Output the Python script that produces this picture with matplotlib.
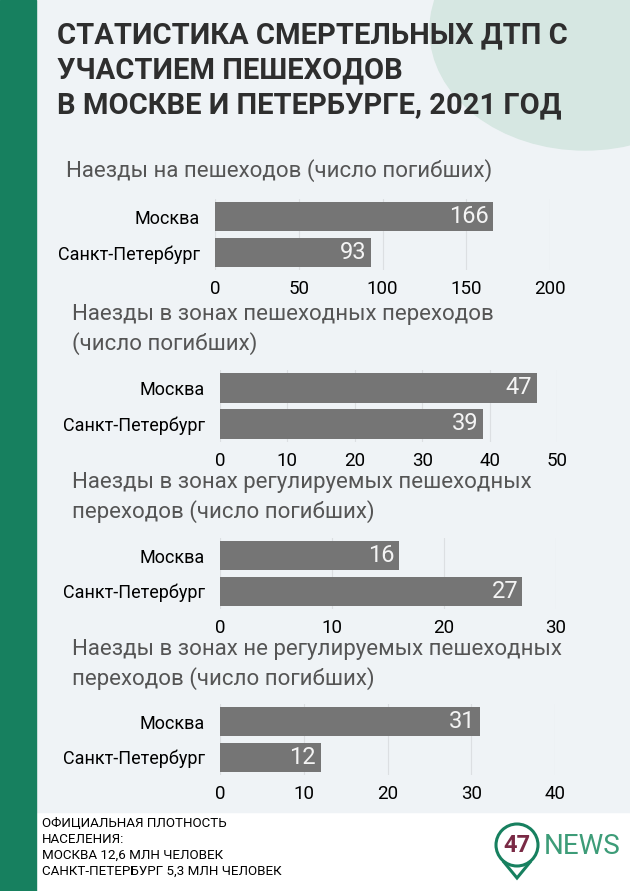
import numpy as np
import matplotlib
matplotlib.use('Agg')
import matplotlib.pyplot as plt
from matplotlib.patches import Rectangle, Ellipse, Circle, Polygon

## data
cities = ['Москва', 'Санкт-Петербург']
hits_total = [166, 93]
hits_crossings = [47, 39]
hits_regulated = [16, 27]
hits_unregulated = [31, 12]

panel_titles = ['Наезды на пешеходов (число погибших)',
                'Наезды в зонах пешеходных переходов\n(число погибших)',
                'Наезды в зонах регулируемых пешеходных\nпереходов (число погибших)',
                'Наезды в зонах не регулируемых пешеходных\nпереходов (число погибших)']
panel_values = [hits_total, hits_crossings, hits_regulated, hits_unregulated]
panel_ticks = [[0, 50, 100, 150, 200], [0, 10, 20, 30, 40, 50], [0, 10, 20, 30], [0, 10, 20, 30, 40]]

title = 'СТАТИСТИКА СМЕРТЕЛЬНЫХ ДТП С\nУЧАСТИЕМ ПЕШЕХОДОВ\nВ МОСКВЕ И ПЕТЕРБУРГЕ, 2021 ГОД'
note = 'ОФИЦИАЛЬНАЯ ПЛОТНОСТЬ\nНАСЕЛЕНИЯ:\nМОСКВА 12,6 МЛН ЧЕЛОВЕК\nСАНКТ-ПЕТЕРБУРГ 5,3 МЛН ЧЕЛОВЕК'

W, H = 630, 891
bg = '#eff3f6'
green = '#17805f'
bar_color = '#757575'
plt.rcParams['font.family'] = ['Roboto', 'DejaVu Sans']

fig = plt.figure(figsize=(W/100., H/100.), dpi=100)
fig.patch.set_facecolor('white')

def px(x, y):
    return x/W, 1 - y/H

## background
bgax = fig.add_axes([0, 0, 1, 1])
bgax.set_xlim(0, W)
bgax.set_ylim(H, 0)
bgax.axis('off')
bgax.add_patch(Rectangle((0, 0), W, 812, color=bg, zorder=0))
bgax.add_patch(Ellipse((585, 30), 310, 240, color='#d6e7e2', zorder=1))
bgax.add_patch(Rectangle((0, 0), 36, H, color=green, zorder=2))

## title
bgax.text(57, 21, title, fontsize=21, fontweight='bold', color='#2e2e2e',
          va='top', ha='left', linespacing=1.32, zorder=3)

## footnote
bgax.text(42, 817, note, fontsize=9.6, color='black', va='top', ha='left',
          linespacing=1.3, zorder=3)

## logo
bgax.add_patch(Circle((517, 845), 21, fill=False, ec=green, lw=2.2, zorder=3))
bgax.add_patch(Polygon([[503, 861], [517, 878], [531, 861]], closed=False, fill=False,
                       ec=green, lw=2.2, zorder=3))
bgax.text(517, 846, '47', fontsize=17, fontweight='bold', color='#7a2a45',
          ha='center', va='center', zorder=4)
bgax.text(544, 847, 'NEWS', fontsize=20, color='#3d9c78',
          ha='left', va='center', zorder=4)

## panels: (title x, title top y, axes left px, axes right px, bar top px, bar bottom px)
layout = [(66, 159, 215, 550, 199, 270),
          (72, 304, 220, 557, 370, 442),
          (72, 472, 220, 556, 538, 609),
          (72, 639, 220, 555, 704, 775)]

for (tx, ty, x0, x1, yt, yb), t, vals, ticks in zip(layout, panel_titles, panel_values, panel_ticks):
    bgax.text(tx, ty, t, fontsize=16, color='#555555', va='top', ha='left',
              linespacing=1.4, zorder=3)
    l, b = px(x0, yb)
    ax = fig.add_axes([l, b, (x1 - x0)/W, (yb - yt)/H])
    ax.set_facecolor('none')
    ypos = np.arange(len(cities))
    ax.barh(ypos, vals, height=0.82, color=bar_color, zorder=2)
    ax.set_ylim(len(cities) - 0.5, -0.5)
    ax.set_xlim(0, ticks[-1])
    ax.set_xticks(ticks)
    ax.set_xticklabels([str(v) for v in ticks], fontsize=13.5)
    ax.set_yticks(ypos)
    ax.set_yticklabels(cities, fontsize=13)
    ax.tick_params(length=0)
    ax.tick_params(axis='x', pad=7)
    ax.tick_params(axis='y', pad=11)
    ax.xaxis.grid(True, color='#dcdfe2', linewidth=0.8, zorder=0)
    for s in ax.spines.values():
        s.set_visible(False)
    for y, v in zip(ypos, vals):
        ax.text(v - ticks[-1]*0.013, y, str(v), color='#f4f4f4', fontsize=17,
                ha='right', va='center', zorder=3)

fig.savefig('out.png', dpi=100, facecolor=fig.get_facecolor())
